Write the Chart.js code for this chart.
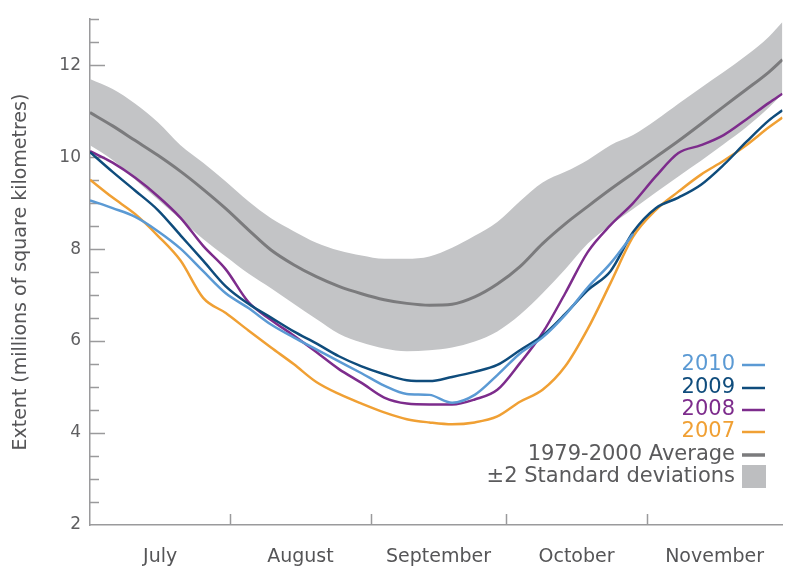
<!DOCTYPE html>
<html lang="en">
<head>
  <meta charset="UTF-8">
  <title>Arctic sea ice extent</title>
  <script src="https://cdn.jsdelivr.net/npm/chart.js"></script>
  <style>
    html, body {
      margin: 0;
      padding: 0;
      background: #ffffff;
    }
    #wrap {
      width: 785px;
      height: 566px;
    }
  </style>
</head>
<body>
  <div id="wrap">
    <canvas id="iceChart" width="785" height="566"></canvas>
  </div>

  <script>
    // days counted from 1 July
    const days = [0, 5, 10, 15, 20, 25, 30, 35, 40, 45, 50, 55, 60, 65, 70, 75,
                  80, 85, 90, 95, 100, 105, 110, 115, 120, 125, 130, 135, 140, 145, 150, 153];

    const avgUpper = [11.70, 11.48, 11.16, 10.76, 10.26, 9.88, 9.47, 9.04, 8.67, 8.39, 8.14, 7.97, 7.86, 7.79, 7.79, 7.84,
                      8.03, 8.29, 8.59, 9.04, 9.45, 9.68, 9.94, 10.26, 10.48, 10.80, 11.16, 11.51, 11.85, 12.21, 12.62, 12.94];
    const avgLower = [10.26, 9.94, 9.51, 9.08, 8.65, 8.22, 7.84, 7.47, 7.15, 6.81, 6.48, 6.16, 5.97, 5.84, 5.78, 5.80,
                      5.86, 5.99, 6.21, 6.57, 7.04, 7.56, 8.12, 8.52, 8.87, 9.23, 9.58, 9.92, 10.28, 10.65, 11.08, 11.38];
    const average = [10.97, 10.68, 10.36, 10.04, 9.69, 9.30, 8.88, 8.42, 7.98, 7.66, 7.40, 7.19, 7.03, 6.90, 6.82, 6.78,
                     6.80, 6.96, 7.24, 7.62, 8.12, 8.55, 8.93, 9.30, 9.65, 10.00, 10.35, 10.72, 11.10, 11.47, 11.85, 12.12];

    const y2010 = [9.06, 8.89, 8.70, 8.39, 8.01, 7.52, 7.04, 6.72, 6.36, 6.08, 5.82, 5.56, 5.30, 5.03, 4.85, 4.83,
                   4.66, 4.83, 5.26, 5.73, 6.08, 6.57, 7.17, 7.69, 8.33];
    const y2009 = [10.11, 9.68, 9.27, 8.85, 8.30, 7.75, 7.19, 6.81, 6.51, 6.21, 5.95, 5.67, 5.45, 5.28, 5.15, 5.13,
                   5.22, 5.33, 5.48, 5.80, 6.12, 6.59, 7.11, 7.52, 8.37, 8.89, 9.12, 9.40, 9.83, 10.33, 10.80, 11.02];
    const y2008 = [10.13, 9.88, 9.55, 9.15, 8.68, 8.07, 7.56, 6.85, 6.46, 6.12, 5.76, 5.39, 5.09, 4.77, 4.64, 4.62,
                   4.62, 4.73, 4.94, 5.52, 6.18, 7.04, 7.94, 8.52, 9.00, 9.58, 10.09, 10.26, 10.48, 10.82, 11.18, 11.38];
    const y2007 = [9.51, 9.12, 8.76, 8.29, 7.75, 6.94, 6.61, 6.23, 5.86, 5.50, 5.11, 4.85, 4.64, 4.45, 4.30, 4.23,
                   4.19, 4.23, 4.36, 4.68, 4.94, 5.45, 6.27, 7.26, 8.27, 8.85, 9.25, 9.62, 9.92, 10.26, 10.65, 10.86];

    const monthNames = ['July', 'August', 'September', 'October', 'November'];
    const monthMids = [15.5, 46.5, 77, 107.5, 138];
    const monthEdges = [31, 62, 92, 123];

    const legendItems = [
      { text: '2010', color: '#5b9ad4', mark: 'line' },
      { text: '2009', color: '#0f4c7c', mark: 'line' },
      { text: '2008', color: '#7d2c8c', mark: 'line' },
      { text: '2007', color: '#f0a034', mark: 'line' },
      { text: '1979-2000 Average', color: '#5a5a5c', markColor: '#7b7b7d', mark: 'line' },
      { text: '\u00b12 Standard deviations', color: '#5a5a5c', markColor: '#bdbec0', mark: 'box' }
    ];

    function pts(vals) {
      return vals.map((v, i) => ({ x: days[i], y: v }));
    }

    // inward axis ticks, drawn under the data
    const axisTicks = {
      id: 'axisTicks',
      beforeDatasetsDraw(chart) {
        const ctx = chart.ctx;
        const xs = chart.scales.x;
        const ys = chart.scales.y;
        ctx.save();
        ctx.strokeStyle = '#9a9a9c';
        ctx.lineWidth = 1.5;
        ctx.beginPath();
        for (let v = 2.5; v <= 13; v += 0.5) {
          const y = Math.round(ys.getPixelForValue(v)) + 0.5;
          const len = (v % 2 === 0) ? 15 : 9;
          ctx.moveTo(xs.left, y);
          ctx.lineTo(xs.left + len, y);
        }
        monthEdges.forEach(d => {
          const x = Math.round(xs.getPixelForValue(d)) + 0.5;
          ctx.moveTo(x, ys.bottom);
          ctx.lineTo(x, ys.bottom - 11);
        });
        ctx.stroke();
        ctx.restore();
      }
    };

    const sideLegend = {
      id: 'sideLegend',
      afterDraw(chart) {
        const ctx = chart.ctx;
        ctx.save();
        ctx.font = '21px "DejaVu Sans"';
        ctx.textAlign = 'right';
        ctx.textBaseline = 'middle';
        const rows = [365, 388, 410, 432, 455, 477];
        legendItems.forEach((it, i) => {
          const y = rows[i];
          ctx.fillStyle = it.color;
          ctx.fillText(it.text, 735, y);
          if (it.mark === 'line') {
            ctx.strokeStyle = it.markColor || it.color;
            ctx.lineWidth = it.markColor ? 3.5 : 2.5;
            ctx.beginPath();
            ctx.moveTo(742, y);
            ctx.lineTo(765, y);
            ctx.stroke();
          } else {
            ctx.fillStyle = it.markColor;
            ctx.fillRect(742, y - 12, 24, 23);
          }
        });
        ctx.restore();
      }
    };

    const lineStyle = {
      pointRadius: 0,
      borderWidth: 2.5,
      cubicInterpolationMode: 'monotone',
      fill: false
    };

    new Chart(document.getElementById('iceChart'), {
      type: 'line',
      data: {
        datasets: [
          Object.assign({ label: '2010', data: pts(y2010), borderColor: '#5b9ad4' }, lineStyle),
          Object.assign({ label: '2009', data: pts(y2009), borderColor: '#0f4c7c' }, lineStyle),
          Object.assign({ label: '2008', data: pts(y2008), borderColor: '#7d2c8c' }, lineStyle),
          Object.assign({ label: '2007', data: pts(y2007), borderColor: '#f0a034' }, lineStyle),
          Object.assign({}, lineStyle, { label: '1979-2000 Average', data: pts(average), borderColor: '#7b7b7d', borderWidth: 3 }),
          {
            label: '+2 SD', data: pts(avgUpper), pointRadius: 0, borderWidth: 0,
            borderColor: 'rgba(0,0,0,0)', backgroundColor: '#c3c4c6',
            cubicInterpolationMode: 'monotone', fill: '+1'
          },
          {
            label: '-2 SD', data: pts(avgLower), pointRadius: 0, borderWidth: 0,
            borderColor: 'rgba(0,0,0,0)', cubicInterpolationMode: 'monotone', fill: false
          }
        ]
      },
      options: {
        responsive: false,
        animation: false,
        layout: { padding: { top: 12, right: 0, left: 0, bottom: 0 } },
        plugins: {
          legend: { display: false },
          tooltip: { enabled: false }
        },
        scales: {
          x: {
            type: 'linear',
            min: 0,
            max: 153,
            grid: { display: false, drawTicks: false },
            border: { display: true, color: '#9a9a9c', width: 1.5 },
            afterBuildTicks(scale) {
              scale.ticks = monthMids.map(v => ({ value: v }));
            },
            afterFit(scale) { scale.height = 41; },
            ticks: {
              autoSkip: false,
              maxRotation: 0,
              padding: 21,
              color: '#555557',
              font: { family: 'DejaVu Sans', size: 19 },
              callback: (v, i) => monthNames[i]
            }
          },
          y: {
            min: 2,
            max: 13,
            grid: { display: false, drawTicks: false },
            border: { display: true, color: '#9a9a9c', width: 1.5 },
            afterFit(scale) { scale.width = 90; },
            title: {
              display: true,
              text: 'Extent (millions of square kilometres)',
              color: '#555557',
              font: { family: 'DejaVu Sans', size: 19 },
              padding: { top: 10, bottom: 0 }
            },
            ticks: {
              stepSize: 0.5,
              autoSkip: false,
              padding: 9,
              color: '#5f5f61',
              font: { family: 'DejaVu Sans', size: 17 },
              callback: v => (v % 2 === 0 ? v : '')
            }
          }
        }
      },
      plugins: [axisTicks, sideLegend]
    });
  </script>
</body>
</html>
